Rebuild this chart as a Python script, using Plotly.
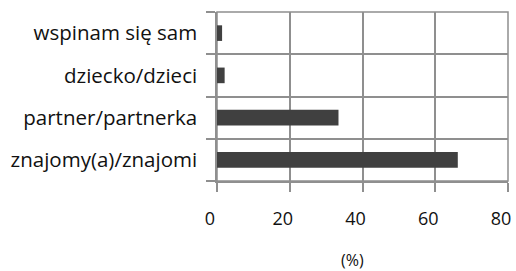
import plotly.graph_objects as go

categories = ["znajomy(a)/znajomi", "partner/partnerka", "dziecko/dzieci", "wspinam się sam"]
values = [66.2, 33.4, 2.1, 1.4]
x_ticks = [0, 20, 40, 60, 80]
x_title = "(%)"

font = "Open Sans"
grid = "#8f8f8f"
gw = 1.5

fig = go.Figure(go.Bar(
    x=values, y=categories, orientation="h",
    marker=dict(color="#404040", line=dict(width=0)),
    width=0.37,
))

fig.update_layout(
    width=516, height=271,
    margin=dict(l=217, r=8, t=12, b=90, autoexpand=False),
    paper_bgcolor="white", plot_bgcolor="white",
    showlegend=False,
    font=dict(family=font, size=18, color="#111111"),
    xaxis=dict(
        range=[0, 80], tickvals=x_ticks, ticks="outside", ticklen=9,
        tickcolor=grid, tickwidth=gw, showgrid=True, gridcolor=grid, gridwidth=gw,
        showline=True, linecolor=grid, linewidth=gw, zeroline=False,
        ticklabelstandoff=12, ticklabelshift=-7, ticklabeloverflow="allow",
        automargin=False, tickfont=dict(size=18),
        fixedrange=True,
    ),
    yaxis=dict(
        type="category", categoryorder="array", categoryarray=categories,
        range=[-0.5, 3.5], tickson="boundaries", ticks="outside", ticklen=9,
        tickcolor=grid, tickwidth=gw, showgrid=True, gridcolor=grid, gridwidth=gw,
        showline=True, linecolor=grid, linewidth=gw, zeroline=False,
        ticklabelstandoff=14, automargin=False,
        tickfont=dict(size=20.5),
        fixedrange=True,
    ),
    shapes=[dict(type="rect", xref="paper", yref="paper", x0=0, x1=1, y0=0, y1=1,
                 line=dict(color=grid, width=gw), layer="below")],
    annotations=[dict(text=x_title, xref="paper", yref="paper", x=0.464, y=-0.467,
                      xanchor="center", yanchor="middle", showarrow=False,
                      font=dict(size=16))],
)

fig.write_html("out.html", config={"displayModeBar": False},
               post_script="document.body.style.margin='0';document.body.style.overflow='hidden';")
